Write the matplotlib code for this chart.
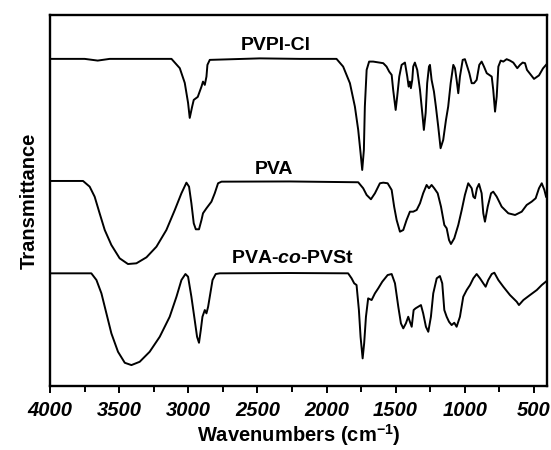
import matplotlib
matplotlib.use("Agg")
import matplotlib.pyplot as plt
from matplotlib.ticker import MultipleLocator

plt.rcParams['font.family'] = ['Liberation Sans', 'DejaVu Sans']
plt.rcParams['mathtext.fontset'] = 'custom'
plt.rcParams['mathtext.rm'] = 'Liberation Sans:bold'
plt.rcParams['mathtext.bf'] = 'Liberation Sans:bold'
plt.rcParams['mathtext.it'] = 'Liberation Sans:bold:italic'

# ---- data (wavenumber in cm^-1, transmittance in arbitrary offset units) ----
pvpi_wn = [4000, 3750, 3656, 3569, 3122, 3062, 3026, 3002, 2990, 2973, 2961, 2932, 2905, 2894,
           2881, 2869, 2862, 2845, 2483, 2193, 1928, 1880, 1831, 1795, 1771, 1754, 1742, 1730,
           1723, 1710, 1692, 1663, 1590, 1566, 1547, 1529, 1518, 1500, 1489, 1474, 1457, 1433,
           1416, 1406, 1397, 1390, 1380, 1373, 1361, 1344, 1324, 1305, 1296, 1283, 1272, 1259,
           1252, 1240, 1223, 1209, 1192, 1175, 1156, 1136, 1120, 1102, 1083, 1071, 1059, 1047,
           1035, 1015, 999, 982, 967, 950, 933, 914, 895, 878, 861, 841, 823, 805, 794, 781,
           769, 757, 740, 721, 697, 673, 649, 620, 600, 581, 564, 550, 499, 463, 434, 412]
pvpi_t = [327, 327, 325.3, 327, 327, 317.7, 303, 283, 268, 279, 286, 289, 299.3, 304.3,
          301, 309.3, 321, 326, 327.5, 327, 327, 319.3, 302.7, 279.3, 256, 233, 216, 236,
          279.3, 316, 324.3, 324.3, 322.7, 319.3, 314.3, 311, 296, 276, 289.3, 309.3, 321, 323.3,
          309.3, 299.3, 304.3, 297.7, 306, 319.3, 323.3, 316, 296, 269.3, 256, 273, 302.7, 319.3,
          321, 306, 294.3, 279.3, 259.3, 237.7, 246, 266, 279.3, 302.7, 321, 317.7, 306, 292.7,
          309.3, 326, 326.7, 319.3, 312.7, 302.7, 302.7, 306, 321, 324.3, 319.3, 312.7, 311, 309.3, 296, 274.3,
          289.3, 319.3, 325.3, 324.3, 326.7, 325.3, 323.3, 317.7, 321, 323.3, 322.7, 316, 307, 310.5, 317.5, 321]

pva_wn = [4000, 3762, 3714, 3678, 3642, 3605, 3557, 3497, 3437, 3376, 3303, 3231, 3159, 3098,
          3050, 3014, 2995, 2978, 2961, 2946, 2923, 2905, 2894, 2869, 2833, 2809, 2785, 2760,
          2266, 1771, 1735, 1710, 1679, 1650, 1614, 1590, 1558, 1529, 1511, 1493, 1469, 1445,
          1421, 1397, 1373, 1348, 1324, 1301, 1276, 1259, 1240, 1221, 1196, 1172, 1148, 1131,
          1114, 1100, 1076, 1047, 1022, 999, 975, 950, 938, 926, 912, 897, 878, 866, 854, 834,
          810, 794, 769, 733, 685, 636, 588, 552, 516, 487, 463, 443, 424, 412]
pva_t = [205, 205, 199.3, 189.3, 172.7, 156, 141, 127.7, 122, 122.7, 128.7, 139.3, 156, 176,
         192.7, 203.3, 199.3, 182.7, 162.7, 156.7, 156.7, 166, 172.7, 177.7, 184.3, 192.7, 202.7, 204.3,
         204.5, 203.7, 197.7, 191, 186.7, 192.7, 202.7, 203.3, 202.7, 196, 179.3, 166, 154.3, 156,
         166, 174.3, 174.3, 176, 182.7, 192.7, 201, 197.7, 201, 197.7, 192.7, 179.3, 161, 157.7,
         146, 142, 147.7, 161, 176, 191, 202.7, 197.7, 189.3, 187.7, 197.7, 202, 192.7, 172.7, 164.3, 179.3,
         192.7, 194.3, 189.3, 179.3, 172.7, 171, 174.3, 181, 184.3, 187.7, 197.7, 202.7, 196, 189.3]

copo_wn = [4000, 3702, 3665, 3629, 3593, 3557, 3509, 3460, 3412, 3352, 3280, 3207, 3135, 3086,
           3050, 3021, 3002, 2978, 2954, 2937, 2923, 2910, 2898, 2881, 2869, 2857, 2845, 2825,
           2802, 2773, 2266, 1844, 1819, 1800, 1783, 1766, 1754, 1739, 1728, 1715, 1699, 1674,
           1650, 1626, 1597, 1558, 1529, 1505, 1481, 1462, 1445, 1426, 1409, 1397, 1384, 1370,
           1356, 1337, 1317, 1301, 1281, 1264, 1245, 1228, 1203, 1180, 1163, 1148, 1131, 1114,
           1095, 1076, 1059, 1035, 1011, 986, 962, 938, 914, 890, 866, 849, 830, 805, 786, 757,
           721, 673, 624, 608, 576, 528, 479, 443, 414]
copo_t = [112.7, 112.7, 106, 92.7, 72.7, 52.7, 34.3, 23.3, 21, 24.3, 34.3, 49.3, 69.3, 89.3,
          106, 112, 109.3, 89.3, 66, 49.3, 43.3, 56, 69.3, 76, 72.7, 79.3, 89.3, 106,
          112, 112.7, 113, 112.7, 107.7, 102.7, 101, 76, 49.3, 27.7, 42.7, 69.3, 87.7, 86,
          92.7, 97.7, 104.3, 111, 112, 102.7, 79.3, 62.7, 57.7, 62.7, 69.3, 64.3, 59.3, 76,
          77.7, 79.3, 81, 72.7, 59.3, 54.3, 69.3, 92.7, 107.7, 110, 102.7, 76, 69.3, 64.3,
          61, 63.3, 59.3, 69.3, 89.3, 96, 101, 107.7, 112, 107.7, 102.7, 99.3, 106, 112, 113.3, 106,
          99.3, 91, 84.3, 81, 86, 91, 96, 101, 104.3]

series_names = ['PVPI-Cl', 'PVA', 'PVA-$\\mathit{co}$-PVSt']
x_ticks = [4000, 3500, 3000, 2500, 2000, 1500, 1000, 500]

# ---- figure ----
fig = plt.figure(figsize=(5.51, 4.5), dpi=100)
ax = fig.add_axes([0.091, 0.142, 0.901, 0.825])

for wn, t in [(pvpi_wn, pvpi_t), (pva_wn, pva_t), (copo_wn, copo_t)]:
    ax.plot(wn, t, color='black', lw=1.4, solid_joinstyle='round')

ax.set_xlim(4000, 408)
ax.set_ylim(0, 371)
ax.set_xticks(x_ticks)
ax.set_xticklabels([str(v) for v in x_ticks], fontsize=14.5, fontweight='bold', fontstyle='italic')
ax.xaxis.set_minor_locator(MultipleLocator(250))
ax.tick_params(axis='x', which='major', direction='out', length=5, width=1.4, pad=6, top=False)
ax.tick_params(axis='x', which='minor', direction='out', length=4, width=1.4, top=False)
ax.set_yticks([])
for s in ax.spines.values():
    s.set_linewidth(1.7)

ax.set_xlabel('Wavenumbers (cm$^{\\mathbf{-1}}$)', fontsize=14.5, fontweight='bold', labelpad=1.5)
ax.set_ylabel('Transmittance', fontsize=14.5, fontweight='bold', labelpad=8)

label_pos = [(2367, 340), (2382, 216), (2244, 128)]
for name, (x, y) in zip(series_names, label_pos):
    ax.text(x, y, name, fontsize=14, fontweight='bold', ha='center', va='center')

fig.savefig('out.png', dpi=100)
